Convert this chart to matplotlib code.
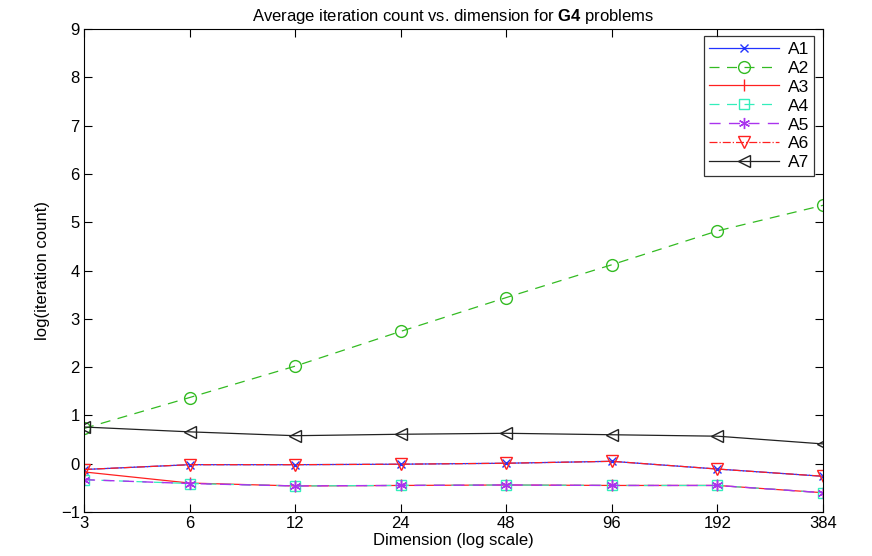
import matplotlib
matplotlib.use("Agg")
import matplotlib.pyplot as plt

plt.rcParams['font.family'] = ['Liberation Sans', 'DejaVu Sans']
plt.rcParams['mathtext.fontset'] = 'custom'
plt.rcParams['mathtext.bf'] = 'Liberation Sans:bold'
plt.rcParams['mathtext.rm'] = 'Liberation Sans'

# data (log of iteration count)
dims = [3, 6, 12, 24, 48, 96, 192, 384]
a1 = [-0.12, -0.02, -0.02, -0.01, 0.01, 0.05, -0.11, -0.26]
a2 = [0.73, 1.37, 2.02, 2.74, 3.44, 4.12, 4.82, 5.35]
a3 = [-0.17, -0.40, -0.46, -0.45, -0.44, -0.45, -0.45, -0.60]
a4 = [-0.33, -0.41, -0.46, -0.45, -0.44, -0.45, -0.45, -0.60]
a5 = [-0.33, -0.41, -0.46, -0.45, -0.44, -0.45, -0.45, -0.60]
a6 = [-0.12, -0.02, -0.02, -0.01, 0.01, 0.05, -0.11, -0.26]
a7 = [0.76, 0.66, 0.58, 0.61, 0.63, 0.60, 0.57, 0.41]

fig = plt.figure(figsize=(8.72, 5.56), dpi=100)
ax = fig.add_axes([0.0963, 0.0791, 0.8475, 0.8687])

ax.plot(dims, a1, color='#2233ff', ls='-', marker='x', ms=6, mfc='none', lw=0.9, label='A1')
ax.plot(dims, a2, color='#33bb22', ls=(0, (8, 6)), marker='o', ms=8.5, mfc='none', lw=0.9, label='A2')
ax.plot(dims, a3, color='#ff2020', ls='-', marker='|', ms=9, lw=0.9, label='A3')
ax.plot(dims, a4, color='#33eebb', ls=(0, (8, 6)), marker='s', ms=6.5, mfc='none', lw=0.9, label='A4')
ax.plot(dims, a5, color='#aa33ee', ls=(0, (8, 6)), marker=(6, 2, 0), ms=8, lw=1.0, label='A5')
ax.plot(dims, a6, color='#ff2020', ls='-.', marker='v', ms=9, mfc='none', lw=0.9, label='A6')
ax.plot(dims, a7, color='#222222', ls='-', marker='<', ms=9, mfc='none', lw=0.9, label='A7')

ax.set_xscale('log', base=2)
ax.set_xlim(3, 384)
ax.set_ylim(-1, 9)
ax.set_xticks(dims)
ax.set_xticklabels([str(d) for d in dims])
ax.minorticks_off()
ax.set_yticks(range(-1, 10))
ax.tick_params(direction='in', length=6, top=True, right=True, labelsize=12, pad=3)

ax.set_xlabel('Dimension (log scale)', fontsize=12, labelpad=1)
ax.set_ylabel('log(iteration count)', fontsize=12, labelpad=8)
ax.set_title(r'Average iteration count vs. dimension for $\mathbf{G4}$ problems',
             fontsize=12, pad=6)

leg = ax.legend(loc='upper right', fontsize=12.5, handlelength=4.0, borderpad=0.3,
                labelspacing=0.22, handletextpad=0.5, fancybox=False,
                bbox_to_anchor=(0.988, 0.985), borderaxespad=0.0)
leg.get_frame().set_edgecolor('black')
leg.get_frame().set_linewidth(0.9)

plt.savefig('out.png', dpi=100)
